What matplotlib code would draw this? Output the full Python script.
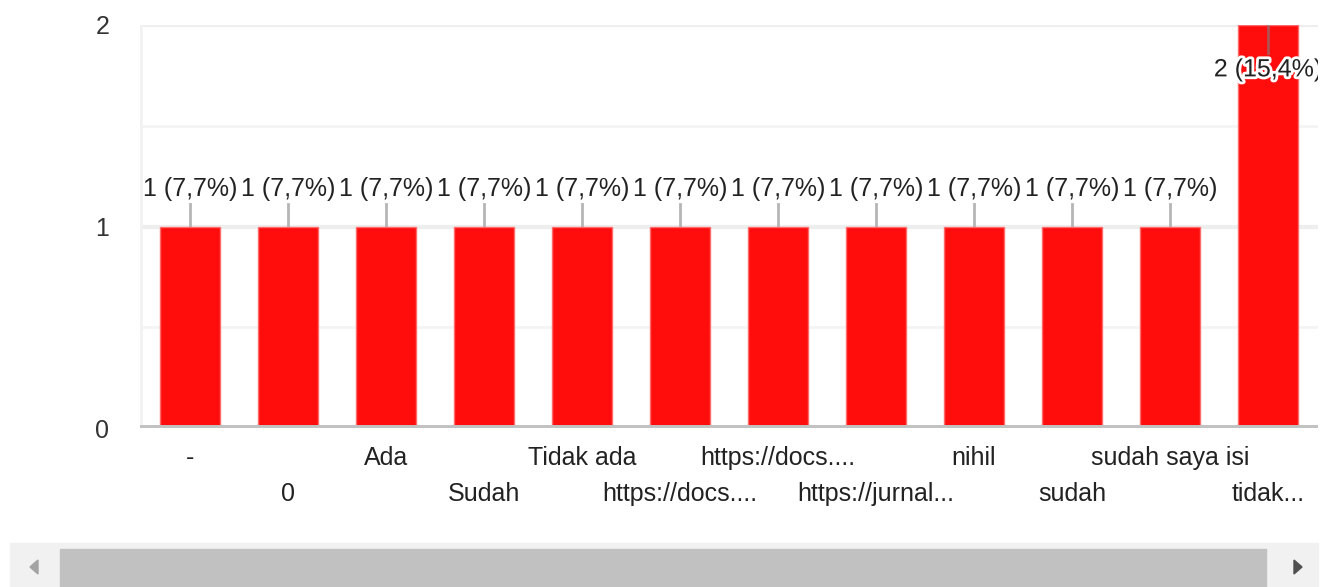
import matplotlib.pyplot as plt
import matplotlib.patheffects as pe
from matplotlib.patches import Rectangle, Polygon

# answers and their counts
categories = ['-', '0', 'Ada', 'Sudah', 'Tidak ada', 'https://docs....',
              'https://docs....', 'https://jurnal...', 'nihil', 'sudah',
              'sudah saya isi', 'tidak...']
counts = [1, 1, 1, 1, 1, 1, 1, 1, 1, 1, 1, 2]
yticks = [0, 1, 2]

total = sum(counts)
plt.rcParams['font.family'] = ['Liberation Sans', 'DejaVu Sans']

fig = plt.figure(figsize=(13.28, 5.87), dpi=100)
ax = fig.add_axes([140 / 1328, 1 - 428 / 587, 1178 / 1328, 403 / 587])

x = list(range(len(categories)))
ax.bar(x, counts, width=0.61, color='#ff0d0d', edgecolor='#ff6a6a',
       linewidth=1, zorder=3)

ax.set_xlim(-0.51, len(categories) - 0.49)
ax.set_ylim(0, 2)

# grid lines
for g in [0.5, 1.5]:
    ax.axhline(g, color='#f4f4f4', lw=2, zorder=1)
for g in [1, 2]:
    ax.axhline(g, color='#eeeeee', lw=3, zorder=1)
ax.axvline(-0.51, color='#f2f2f2', lw=4, zorder=1)
ax.axhline(0, color='#c2c2c2', lw=5, zorder=4)

for s in ax.spines.values():
    s.set_visible(False)
ax.set_xticks([])
ax.set_yticks(yticks)
ax.set_yticklabels([str(t) for t in yticks], fontsize=18, color='#333333')
ax.tick_params(axis='y', length=0, pad=22)

# value labels with small leader lines
for i, c in enumerate(counts):
    pct = f'{c / total * 100:.1f}'.replace('.', ',')
    lab = f'{c} ({pct}%)'
    if c < max(counts):
        ax.plot([i, i], [c, c + 0.11], color='#b5b5b5', lw=2, zorder=2)
        ax.text(i, c + 0.15, lab, ha='center', va='baseline', fontsize=18,
                color='#222222', zorder=5)
    else:
        ax.plot([i, i], [c, c - 0.14], color='#808080', lw=2, alpha=0.6,
                zorder=4)
        t = ax.text(i, c - 0.255, lab, ha='center', va='baseline', fontsize=18,
                    color='#222222', zorder=5, clip_on=True)
        t.set_path_effects([pe.withStroke(linewidth=4, foreground='white')])

# category labels on two staggered rows
for i, name in enumerate(categories):
    yy = -0.074 if i % 2 == 0 else -0.164
    ax.text(i, yy, name, transform=ax.get_xaxis_transform(), ha='center',
            va='center', fontsize=18, color='#222222', clip_on=False)

# scrollbar under the chart
W, H = 1328, 587
fig.patches.append(Rectangle((10 / W, 0), 1308 / W, 44 / H,
                             transform=fig.transFigure, color='#f1f1f1'))
fig.patches.append(Rectangle((60 / W, 0), 1206 / W, 38 / H,
                             transform=fig.transFigure, color='#c1c1c1'))
fig.patches.append(Polygon([(30 / W, 20 / H), (38 / W, 27 / H), (38 / W, 13 / H)],
                           transform=fig.transFigure, color='#a3a3a3'))
fig.patches.append(Polygon([(1302 / W, 20 / H), (1294 / W, 27 / H), (1294 / W, 13 / H)],
                           transform=fig.transFigure, color='#505050'))

fig.savefig('out.png', dpi=100)
